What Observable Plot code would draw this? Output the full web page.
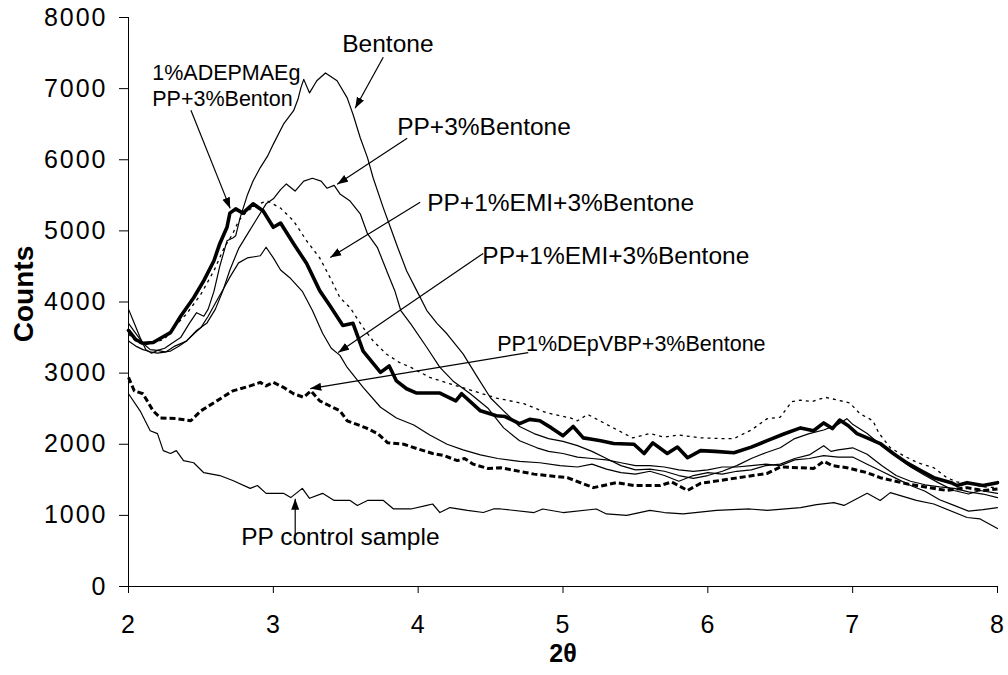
<!DOCTYPE html>
<html><head><meta charset="utf-8">
<script src="https://cdn.jsdelivr.net/npm/d3@7"></script>
<script src="https://cdn.jsdelivr.net/npm/@observablehq/plot@0.6"></script>
<style>
html,body{margin:0;padding:0;background:#fff;}
#chart svg [aria-label="y-axis tick label"] text{letter-spacing:2px;}
#chart svg [aria-label="x-axis tick label"] text{letter-spacing:1px;}
#chart svg g[aria-label="counts-title"] text{letter-spacing:3.5px;}
</style></head><body><div id="chart"></div>
<script>
// ---- axis ticks ----
const xTicks = [2, 3, 4, 5, 6, 7, 8];
const yTicks = [0, 1000, 2000, 3000, 4000, 5000, 6000, 7000, 8000];

// ---- series (2θ, counts) ----
const bentone = [[2.0,3900],[2.04,3700],[2.08,3500],[2.12,3330],[2.16,3280],[2.2,3320],[2.25,3350],[2.3,3420],[2.36,3500],[2.42,3700],[2.47,3850],[2.52,3800],[2.55,3900],[2.59,4150],[2.63,4500],[2.68,4860],[2.72,4900],[2.74,4930],[2.77,5180],[2.82,5500],[2.86,5700],[2.91,5890],[2.96,6050],[3.0,6220],[3.07,6500],[3.14,6690],[3.17,6850],[3.19,7010],[3.21,7130],[3.25,6940],[3.3,7110],[3.36,7220],[3.44,7110],[3.51,6870],[3.55,6640],[3.6,6310],[3.65,6030],[3.69,5740],[3.76,5320],[3.81,5040],[3.86,4760],[3.92,4440],[3.99,4160],[4.06,3880],[4.13,3700],[4.2,3550],[4.31,3270],[4.41,2940],[4.5,2650],[4.59,2470],[4.7,2250],[4.8,2150],[4.9,2080],[5.0,2040],[5.1,1980],[5.2,1900],[5.3,1800],[5.4,1700],[5.5,1640],[5.6,1650],[5.7,1620],[5.8,1560],[5.9,1520],[6.0,1560],[6.1,1620],[6.2,1700],[6.3,1800],[6.4,1880],[6.5,1950],[6.6,2080],[6.7,2150],[6.8,2200],[6.9,2280],[6.96,2360],[7.0,2280],[7.1,2150],[7.2,1980],[7.3,1830],[7.4,1680],[7.5,1560],[7.6,1450],[7.7,1350],[7.8,1300],[7.88,1350],[8.0,1310]];

const pp3Bentone = [[2.0,3450],[2.05,3380],[2.1,3330],[2.15,3300],[2.2,3280],[2.26,3300],[2.32,3380],[2.4,3450],[2.47,3600],[2.54,3700],[2.6,3900],[2.65,4150],[2.7,4450],[2.76,4750],[2.82,4950],[2.88,5150],[2.95,5380],[3.0,5450],[3.05,5580],[3.09,5660],[3.15,5560],[3.21,5700],[3.27,5740],[3.33,5700],[3.37,5600],[3.42,5640],[3.46,5520],[3.53,5420],[3.6,5240],[3.65,4960],[3.72,4760],[3.79,4400],[3.84,4150],[3.88,3880],[3.95,3690],[4.06,3360],[4.15,3080],[4.24,2890],[4.36,2710],[4.48,2510],[4.59,2230],[4.7,2050],[4.82,1950],[4.9,1900],[5.0,1870],[5.1,1820],[5.2,1800],[5.3,1780],[5.4,1740],[5.5,1700],[5.6,1700],[5.7,1680],[5.8,1640],[5.9,1620],[6.0,1640],[6.1,1680],[6.2,1680],[6.3,1700],[6.4,1720],[6.5,1700],[6.6,1780],[6.7,1800],[6.8,1840],[6.9,1820],[7.0,1820],[7.1,1720],[7.2,1620],[7.3,1520],[7.4,1420],[7.5,1340],[7.6,1220],[7.7,1140],[7.8,1060],[7.9,1080],[8.0,1110]];

const emiA = [[2.0,3550],[2.05,3450],[2.1,3400],[2.17,3420],[2.25,3480],[2.31,3640],[2.4,3830],[2.5,4110],[2.59,4440],[2.66,4760],[2.72,4960],[2.76,5140],[2.82,5280],[2.9,5380],[2.96,5420],[3.05,5320],[3.14,5140],[3.23,4860],[3.32,4620],[3.39,4350],[3.46,4060],[3.53,3920],[3.62,3640],[3.69,3450],[3.78,3270],[3.87,3150],[3.95,3080],[4.08,2940],[4.22,2850],[4.38,2750],[4.54,2650],[4.73,2570],[4.89,2440],[5.05,2370],[5.1,2330],[5.17,2420],[5.3,2280],[5.48,2090],[5.6,2150],[5.7,2100],[5.8,2130],[5.95,2090],[6.1,2080],[6.18,2080],[6.3,2200],[6.41,2360],[6.5,2380],[6.58,2600],[6.64,2620],[6.72,2600],[6.81,2660],[6.9,2620],[6.98,2580],[7.05,2430],[7.14,2330],[7.18,2160],[7.26,1950],[7.35,1840],[7.45,1740],[7.56,1670],[7.65,1530],[7.72,1470],[7.8,1450],[7.9,1400],[8.0,1390]];

const emiB = [[2.0,3700],[2.05,3560],[2.1,3420],[2.15,3330],[2.2,3320],[2.25,3300],[2.29,3310],[2.35,3380],[2.4,3450],[2.45,3550],[2.5,3640],[2.55,3800],[2.61,4020],[2.66,4200],[2.7,4350],[2.76,4550],[2.82,4620],[2.88,4640],[2.91,4650],[2.95,4770],[3.0,4620],[3.05,4450],[3.12,4330],[3.2,4150],[3.27,3880],[3.34,3560],[3.4,3350],[3.46,3250],[3.51,3080],[3.62,2800],[3.74,2520],[3.85,2370],[3.97,2270],[4.08,2130],[4.2,2000],[4.31,1920],[4.43,1850],[4.55,1800],[4.7,1760],[4.84,1740],[4.98,1700],[5.1,1680],[5.2,1720],[5.3,1650],[5.4,1600],[5.5,1580],[5.6,1620],[5.7,1560],[5.8,1480],[5.9,1560],[6.0,1600],[6.1,1580],[6.2,1620],[6.3,1640],[6.4,1700],[6.5,1720],[6.6,1800],[6.7,1850],[6.8,1980],[6.85,1900],[6.9,1920],[7.0,1950],[7.1,1860],[7.2,1700],[7.3,1560],[7.4,1480],[7.5,1430],[7.6,1400],[7.7,1380],[7.8,1330],[7.9,1300],[8.0,1250]];

const adepmaeg = [[2.0,3600],[2.05,3470],[2.1,3420],[2.17,3430],[2.23,3500],[2.29,3570],[2.36,3800],[2.45,4060],[2.52,4300],[2.59,4580],[2.63,4820],[2.68,5050],[2.7,5250],[2.74,5310],[2.79,5250],[2.86,5380],[2.93,5280],[3.0,5050],[3.05,5110],[3.14,4820],[3.23,4540],[3.32,4160],[3.39,3950],[3.48,3670],[3.55,3700],[3.62,3310],[3.74,3010],[3.8,3100],[3.85,2890],[3.92,2780],[3.99,2720],[4.15,2720],[4.26,2610],[4.3,2710],[4.43,2470],[4.54,2400],[4.6,2390],[4.7,2290],[4.77,2350],[4.84,2330],[4.92,2230],[5.0,2120],[5.07,2250],[5.14,2090],[5.2,2070],[5.26,2050],[5.35,2010],[5.49,2000],[5.56,1870],[5.62,2020],[5.72,1870],[5.79,1960],[5.86,1810],[5.95,1910],[6.05,1900],[6.18,1880],[6.3,1960],[6.41,2050],[6.52,2140],[6.64,2230],[6.73,2190],[6.8,2300],[6.86,2220],[6.91,2340],[6.97,2260],[7.03,2150],[7.1,2090],[7.19,2010],[7.28,1870],[7.38,1730],[7.47,1630],[7.56,1530],[7.68,1460],[7.72,1420],[7.79,1460],[7.9,1420],[8.0,1460]];

const depvbp = [[2.0,2940],[2.04,2750],[2.1,2710],[2.17,2470],[2.22,2370],[2.33,2360],[2.43,2330],[2.5,2470],[2.61,2610],[2.72,2750],[2.84,2820],[2.91,2870],[2.95,2820],[3.0,2870],[3.07,2800],[3.14,2710],[3.21,2660],[3.26,2750],[3.32,2610],[3.41,2520],[3.46,2470],[3.51,2330],[3.64,2230],[3.72,2150],[3.79,2020],[3.9,2000],[3.99,1940],[4.1,1870],[4.18,1840],[4.27,1770],[4.32,1800],[4.38,1720],[4.48,1660],[4.57,1670],[4.8,1580],[5.03,1530],[5.21,1390],[5.37,1460],[5.49,1420],[5.67,1420],[5.75,1470],[5.86,1350],[5.95,1450],[6.18,1520],[6.41,1590],[6.5,1680],[6.64,1670],[6.73,1660],[6.8,1760],[6.86,1700],[6.96,1670],[7.1,1600],[7.19,1530],[7.38,1440],[7.53,1390],[7.65,1350],[7.79,1390],[7.9,1350],[8.0,1370]];

const control = [[2.0,2710],[2.08,2470],[2.15,2190],[2.2,2150],[2.24,1910],[2.29,1870],[2.33,1910],[2.38,1770],[2.45,1740],[2.52,1600],[2.63,1560],[2.72,1490],[2.84,1380],[2.89,1420],[2.95,1310],[3.07,1310],[3.12,1250],[3.2,1380],[3.25,1240],[3.34,1310],[3.42,1210],[3.53,1210],[3.58,1140],[3.65,1210],[3.76,1210],[3.83,1090],[3.95,1090],[4.06,1140],[4.1,1160],[4.15,1040],[4.22,1110],[4.34,1070],[4.45,1040],[4.52,1090],[4.57,1090],[4.8,1040],[4.86,1090],[5.0,1040],[5.23,1090],[5.3,1020],[5.44,1000],[5.6,1070],[5.7,1040],[5.83,1020],[6.06,1070],[6.29,1090],[6.41,1070],[6.64,1110],[6.75,1150],[6.87,1180],[6.94,1140],[7.1,1310],[7.19,1210],[7.26,1320],[7.44,1210],[7.56,1160],[7.79,970],[7.88,950],[8.0,815]];

// ---- annotations (data units) ----
const bigLabelText = ["Bentone", "PP+3%Bentone", "PP+1%EMI+3%Bentone", "PP+1%EMI+3%Bentone", "PP control sample"];
const bigLabelX = [3.476, 3.855, 4.062, 4.443, 2.778];
const bigLabelY = [7510, 6345, 5275, 4530, 587];
const smallLabelText = ["1%ADEPMAEg\nPP+3%Benton", "PP1%DEpVBP+3%Bentone"];
const smallLabelX = [2.164, 4.546];
const smallLabelY = [6752, 3317];
const arrowX1 = [3.759, 2.431, 3.924, 4.014, 4.449, 4.760, 3.151];
const arrowY1 = [7441, 6695, 6301, 5401, 4683, 3289, 714];
const arrowX2 = [3.565, 2.702, 3.441, 3.393, 3.448, 3.255, 3.151];
const arrowY2 = [6724, 5316, 5654, 4626, 3289, 2783, 1234];

const xTitle = "2θ";
const yTitle = "Counts";

// ---- build tables ----
const toRows = (pts) => pts.map(([x, y]) => ({x, y}));
const bigLabels = bigLabelText.map((t, i) => ({t, x: bigLabelX[i], y: bigLabelY[i]}));
const smallLabels = smallLabelText.map((t, i) => ({t, x: smallLabelX[i], y: smallLabelY[i]}));
const arrows = arrowX1.map((_, i) => ({x1: arrowX1[i], y1: arrowY1[i], x2: arrowX2[i], y2: arrowY2[i]}));

const FONT = "'Liberation Sans', Arial, Helvetica, sans-serif";

function solidArrow(color, context) {
  const doc = (context && context.document) || document;
  const ns = "http://www.w3.org/2000/svg";
  const m = doc.createElementNS(ns, "marker");
  m.setAttribute("viewBox", "-11 -4.5 11 9");
  m.setAttribute("markerWidth", "11");
  m.setAttribute("markerHeight", "9");
  m.setAttribute("markerUnits", "userSpaceOnUse");
  m.setAttribute("orient", "auto");
  m.setAttribute("refX", "0");
  m.setAttribute("refY", "0");
  const p = doc.createElementNS(ns, "path");
  p.setAttribute("d", "M-11,-4L0,0L-11,4Z");
  p.setAttribute("fill", color);
  p.setAttribute("stroke", "none");
  m.appendChild(p);
  return m;
}

const thin = {x: "x", y: "y", stroke: "black", strokeWidth: 1.2};

const chart = Plot.plot({
  width: 1008,
  height: 675,
  marginLeft: 128,
  marginRight: 11,
  marginTop: 17,
  marginBottom: 89,
  style: {fontFamily: FONT, background: "white", color: "black"},
  x: {domain: [2, 8]},
  y: {domain: [0, 8000]},
  marks: [
    Plot.axisY({ticks: yTicks, tickSize: 9, tickPadding: 12, fontSize: 25, tickFormat: "d", label: null}),
    Plot.axisX({ticks: xTicks, tickSize: 7, tickPadding: 22, fontSize: 25, tickFormat: "d", label: null}),
    Plot.ruleX([2], {stroke: "black"}),
    Plot.ruleY([0], {stroke: "black"}),
    Plot.line(toRows(control), thin),
    Plot.line(toRows(depvbp), {x: "x", y: "y", stroke: "black", strokeWidth: 3, strokeDasharray: "6,3", strokeLinecap: "butt"}),
    Plot.line(toRows(emiB), thin),
    Plot.line(toRows(pp3Bentone), thin),
    Plot.line(toRows(bentone), thin),
    Plot.line(toRows(emiA), {x: "x", y: "y", stroke: "black", strokeWidth: 1.3, strokeDasharray: "3,4", strokeLinecap: "butt"}),
    Plot.line(toRows(adepmaeg), {x: "x", y: "y", stroke: "black", strokeWidth: 3.6}),
    Plot.link(arrows, {x1: "x1", y1: "y1", x2: "x2", y2: "y2", stroke: "black", strokeWidth: 1.2, markerEnd: solidArrow}),
    Plot.text(bigLabels, {x: "x", y: "y", text: "t", textAnchor: "start", lineAnchor: "bottom", fontSize: 24.5, fill: "black"}),
    Plot.text(smallLabels, {x: "x", y: "y", text: "t", textAnchor: "start", lineAnchor: "bottom", fontSize: 21.5, lineHeight: 1.21, fill: "black"}),
    Plot.text([yTitle], {frameAnchor: "left", textAnchor: "middle", dx: -104, dy: -8, rotate: -90, text: d => d, fontSize: 28, fontWeight: "bold", fill: "black", ariaLabel: "counts-title"}),
    Plot.text([xTitle], {frameAnchor: "bottom", textAnchor: "middle", dy: 75, text: d => d, fontSize: 25, fontWeight: "bold", fill: "black"})
  ]
});
document.getElementById("chart").appendChild(chart);
</script>
</body></html>
